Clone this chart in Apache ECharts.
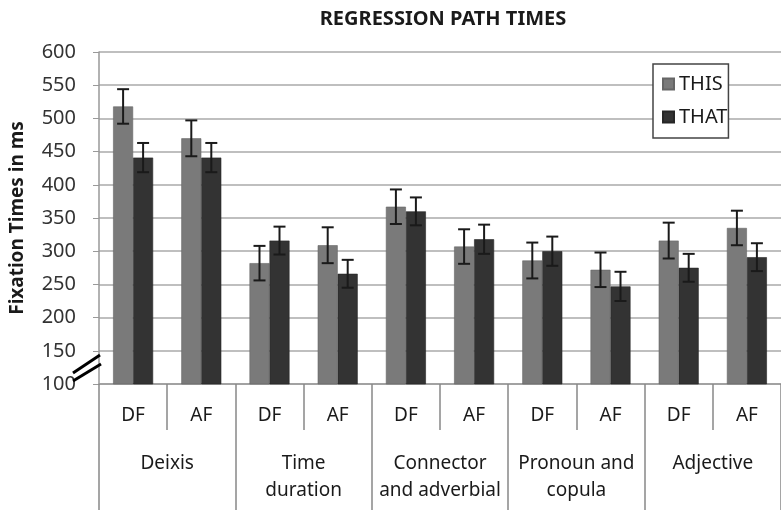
<!DOCTYPE html>
<html>
<head>
<meta charset="utf-8">
<script src="https://cdn.jsdelivr.net/npm/echarts@6/dist/echarts.min.js"></script>
<style>
  html, body { margin: 0; padding: 0; background: #fff; }
  #chart { width: 781px; height: 510px; }
</style>
</head>
<body>
<div id="chart"></div>
<script>
  // data
  var conditions = ['DF', 'AF', 'DF', 'AF', 'DF', 'AF', 'DF', 'AF', 'DF', 'AF'];
  var groups = ['Deixis', 'Time\nduration', 'Connector\nand adverbial', 'Pronoun and\ncopula', 'Adjective'];
  var thisValues = [518, 470, 282, 309, 367, 307, 286, 272, 316, 335];
  var thatValues = [441, 441, 316, 266, 360, 318, 300, 247, 275, 291];
  var thisErr = [26, 27, 26, 27, 26, 26, 27, 26, 27, 26];
  var thatErr = [22, 22, 21, 21, 21, 22, 22, 22, 21, 21];

  var font = '"Noto Sans", "Open Sans", sans-serif';

  let errData = (vals, errs) => {
    let arr = [];
    for (let i = 0; i < vals.length; i++) {
      arr.push([i, vals[i] - errs[i], vals[i] + errs[i]]);
    }
    return arr;
  };

  let errRender = (offset) => {
    return function (params, api) {
      let i = api.value(0);
      let lo = api.coord([i, api.value(1)]);
      let hi = api.coord([i, api.value(2)]);
      let x = lo[0] + offset;
      let cap = 6;
      let style = { stroke: '#1a1a1a', lineWidth: 2 };
      return {
        type: 'group',
        children: [
          { type: 'line', shape: { x1: x, y1: hi[1], x2: x, y2: lo[1] }, style: style },
          { type: 'line', shape: { x1: x - cap, y1: hi[1], x2: x + cap, y2: hi[1] }, style: style },
          { type: 'line', shape: { x1: x - cap, y1: lo[1], x2: x + cap, y2: lo[1] }, style: style }
        ]
      };
    };
  };

  let chart = echarts.init(document.getElementById('chart'));
  let option = {
    animation: false,
    title: {
      text: 'REGRESSION PATH TIMES',
      left: 438,
      textAlign: 'center',
      top: 4,
      textStyle: { fontFamily: font, fontWeight: 'bold', fontSize: 20, color: '#1a1a1a' }
    },
    legend: {
      orient: 'vertical',
      left: 653,
      top: 64,
      padding: [10, 1, 11, 9],
      itemGap: 13,
      itemWidth: 11,
      itemHeight: 11,
      backgroundColor: '#fff',
      borderColor: '#444',
      borderWidth: 1.5,
      data: [
        { name: 'THIS', icon: 'rect' },
        { name: 'THAT', icon: 'rect' }
      ],
      textStyle: { fontFamily: font, fontSize: 20, color: '#1a1a1a' }
    },
    grid: { left: 96, right: 0, top: 52, bottom: 126 },
    xAxis: [
      {
        type: 'category',
        data: conditions,
        axisLine: { lineStyle: { color: '#999', width: 1.5 } },
        axisTick: { show: true, length: 46, interval: 0, lineStyle: { color: '#888', width: 1.5 } },
        axisLabel: { interval: 0, margin: 22, fontFamily: font, fontSize: 19, color: '#1a1a1a' }
      },
      {
        type: 'category',
        data: groups,
        position: 'bottom',
        axisLine: { show: false },
        axisTick: { show: true, length: 127, interval: 0, lineStyle: { color: '#888', width: 1.5 } },
        axisLabel: { interval: 0, margin: 66, fontFamily: font, fontSize: 19, lineHeight: 27, color: '#1a1a1a' }
      }
    ],
    yAxis: {
      type: 'value',
      min: 100,
      max: 600,
      interval: 50,
      name: 'Fixation Times in ms',
      nameLocation: 'middle',
      nameGap: 72,
      nameTextStyle: { fontFamily: font, fontWeight: 'bold', fontSize: 19, color: '#1a1a1a' },
      axisLine: { show: true, lineStyle: { color: '#999', width: 1.5 } },
      axisTick: { show: true, length: 6, lineStyle: { color: '#999' } },
      axisLabel: { margin: 23, fontFamily: font, fontSize: 20, color: '#333' },
      splitLine: { lineStyle: { color: '#aaa', width: 1.5 } }
    },
    series: [
      {
        name: 'THIS',
        type: 'bar',
        data: thisValues,
        barWidth: 20,
        barGap: '0%',
        itemStyle: { color: '#7a7a7a', borderColor: '#666', borderWidth: 0.6 }
      },
      {
        name: 'THAT',
        type: 'bar',
        data: thatValues,
        barWidth: 20,
        barGap: '0%',
        itemStyle: { color: '#333333', borderColor: '#262626', borderWidth: 0.6 }
      },
      {
        type: 'custom',
        data: errData(thisValues, thisErr),
        renderItem: errRender(-10),
        z: 5
      },
      {
        type: 'custom',
        data: errData(thatValues, thatErr),
        renderItem: errRender(10),
        z: 5
      }
    ],
    graphic: [
      { type: 'line', z: 100, shape: { x1: 73, y1: 373, x2: 100, y2: 355 }, style: { stroke: '#000', lineWidth: 3 } },
      { type: 'line', z: 100, shape: { x1: 73, y1: 381, x2: 101, y2: 364 }, style: { stroke: '#000', lineWidth: 3 } }
    ]
  };
  chart.setOption(option);
</script>
</body>
</html>
